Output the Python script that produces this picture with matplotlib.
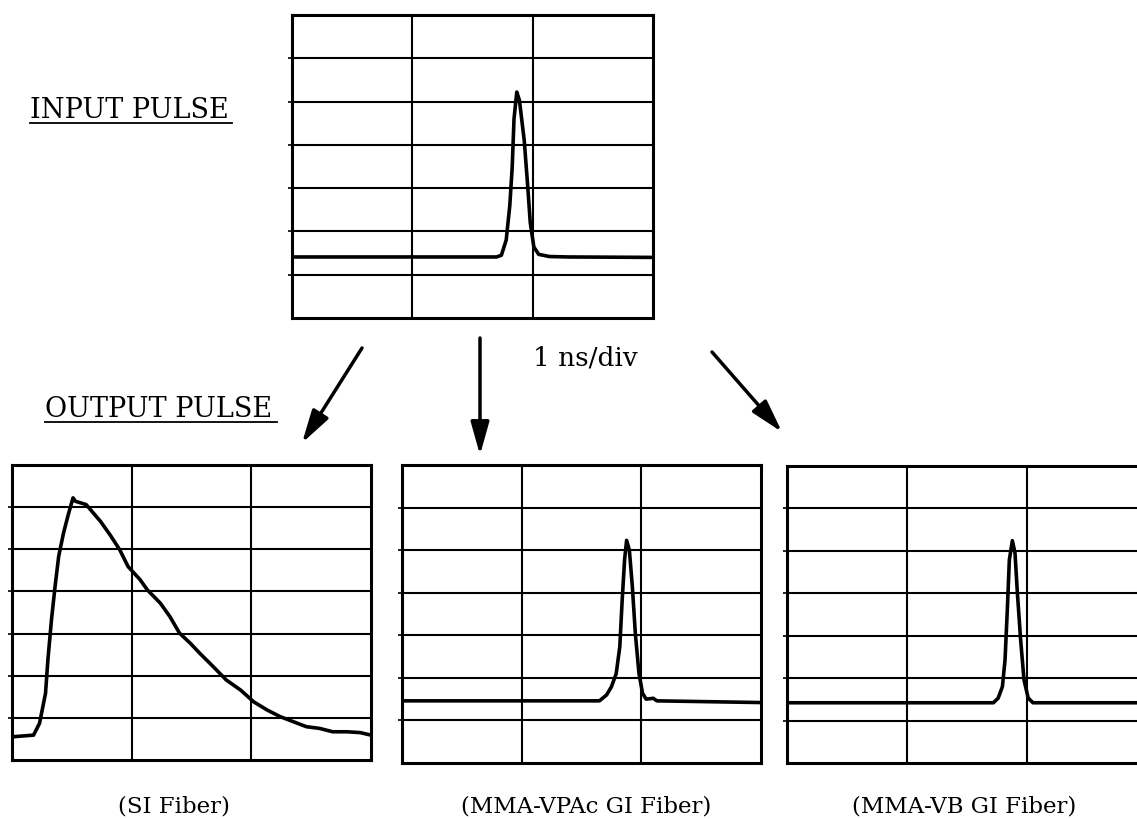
import numpy as np
import matplotlib
matplotlib.use("Agg")
import matplotlib.pyplot as plt
from matplotlib.lines import Line2D

W, H = 1137, 819

# traces: time in ns (1 ns/div), level in vertical divisions
t_input = [0.0, 1.70, 1.74, 1.78, 1.81, 1.83, 1.845, 1.868, 1.89, 1.93, 1.96, 1.98, 2.01, 2.05, 2.14, 2.30, 3.0]
v_input = [1.41, 1.41, 1.45, 1.80, 2.60, 3.49, 4.60, 5.22, 5.03, 4.10, 3.00, 2.20, 1.64, 1.47, 1.42, 1.41, 1.40]

t_si = [0.0, 0.18, 0.23, 0.28, 0.30, 0.33, 0.36, 0.39, 0.43, 0.47, 0.51, 0.53, 0.62, 0.74,
        0.82, 0.90, 0.97, 1.07, 1.13, 1.24, 1.32, 1.40, 1.49, 1.57, 1.68, 1.79, 1.91, 2.02,
        2.13, 2.24, 2.35, 2.46, 2.57, 2.68, 2.80, 2.91, 3.0]
v_si = [0.55, 0.59, 0.87, 1.58, 2.38, 3.33, 4.12, 4.83, 5.38, 5.82, 6.22, 6.14, 6.06, 5.66,
        5.34, 4.99, 4.59, 4.28, 4.04, 3.72, 3.40, 3.01, 2.77, 2.53, 2.22, 1.90, 1.66, 1.38,
        1.19, 1.03, 0.91, 0.79, 0.75, 0.67, 0.67, 0.65, 0.59]

t_vpac = [0.0, 1.65, 1.71, 1.75, 1.79, 1.82, 1.84, 1.86, 1.877, 1.90, 1.925, 1.95, 1.98,
          2.01, 2.04, 2.10, 2.13, 3.0]
v_vpac = [1.46, 1.46, 1.60, 1.79, 2.10, 2.73, 3.83, 4.77, 5.23, 5.00, 4.14, 3.04, 2.11,
          1.64, 1.50, 1.52, 1.46, 1.42]

t_vb = [0.0, 1.72, 1.76, 1.795, 1.817, 1.836, 1.853, 1.878, 1.90, 1.92, 1.947, 1.975, 2.01, 2.05, 3.0]
v_vb = [1.42, 1.42, 1.53, 1.80, 2.43, 3.61, 4.79, 5.24, 4.95, 4.00, 2.90, 1.96, 1.53, 1.42, 1.42]

panel_labels = ["(SI Fiber)", "(MMA-VPAc GI Fiber)", "(MMA-VB GI Fiber)"]

plt.rcParams["font.family"] = ["DejaVu Serif"]

fig = plt.figure(figsize=(W / 100, H / 100), dpi=100)


def fx(px):
    return px / W


def fy(py):
    return 1 - py / H


def scope(left, top, right, bottom, t, v):
    ax = fig.add_axes([fx(left), fy(bottom), (right - left) / W, (bottom - top) / H])
    ax.set_xlim(0, 3)
    ax.set_ylim(0, 7)
    ax.set_xticks([1, 2])
    ax.set_yticks(range(1, 7))
    ax.tick_params(axis="x", length=0, labelbottom=False)
    ax.tick_params(axis="y", length=3, width=1.2, direction="out", labelleft=False)
    ax.grid(True, color="black", linewidth=1.5)
    ax.set_axisbelow(True)
    for s in ax.spines.values():
        s.set_linewidth(2.2)
    ax.plot(t, v, color="black", linewidth=2.6, solid_joinstyle="round",
            solid_capstyle="round")
    return ax


scope(292, 15, 653, 318, t_input, v_input)
scope(12, 465, 371, 760, t_si, v_si)
scope(402, 465, 761, 763, t_vpac, v_vpac)
scope(787, 466, 1147, 763, t_vb, v_vb)

# headings with underline
fig.text(fx(30), fy(118), "INPUT PULSE", fontsize=19.5, ha="left", va="baseline")
fig.add_artist(Line2D([fx(30), fx(232)], [fy(123), fy(123)], color="black", lw=1.3))
fig.text(fx(45), fy(417), "OUTPUT PULSE", fontsize=19.5, ha="left", va="baseline")
fig.add_artist(Line2D([fx(45), fx(277)], [fy(422), fy(422)], color="black", lw=1.3))

fig.text(fx(585), fy(366), "1 ns/div", fontsize=19, ha="center", va="baseline")

# arrows from the input pulse to each output
arrows = [((362, 348), (302, 443)), ((480, 338), (480, 455)), ((712, 352), (782, 432))]
for (x0, y0), (x1, y1) in arrows:
    fig.add_artist(matplotlib.patches.FancyArrowPatch(
        (fx(x0), fy(y0)), (fx(x1), fy(y1)), transform=fig.transFigure,
        arrowstyle="-|>,head_length=1.0,head_width=0.28", mutation_scale=20,
        color="black", lw=2.5, shrinkA=0, shrinkB=0))

label_x = [174, 586, 964]
for x, lab in zip(label_x, panel_labels):
    fig.text(fx(x), fy(813), lab, fontsize=16.5, ha="center", va="baseline")

fig.savefig("out.png", dpi=100)
